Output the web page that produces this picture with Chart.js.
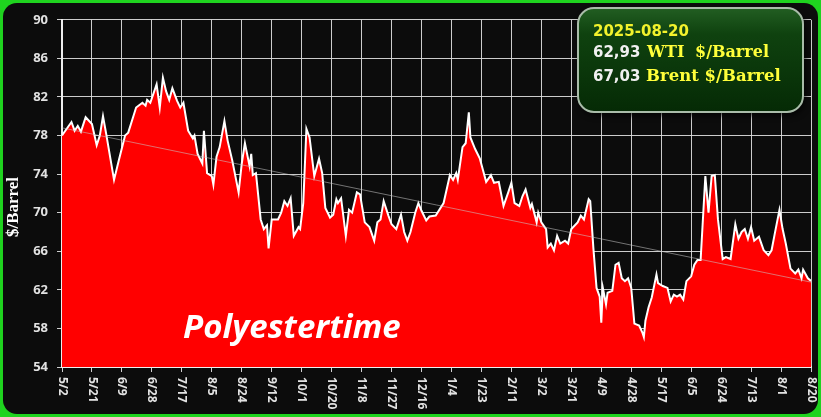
<!DOCTYPE html>
<html>
<head>
<meta charset="utf-8">
<script src="https://cdn.jsdelivr.net/npm/chart.js@4.4.1/dist/chart.umd.min.js"></script>
<style>
html, body { margin: 0; padding: 0; }
body { width: 821px; height: 417px; background: #1fd31f; overflow: hidden; position: relative; }
#wrap { position: absolute; left: 3px; top: 3px; width: 815px; height: 411px; background: #0c0c0c; border-radius: 14px; overflow: hidden; }
</style>
</head>
<body>
<div id="wrap"><canvas id="oilChart" width="815" height="411"></canvas></div>
<script>
// WTI crude, $/barrel, day offsets counted from 2024-05-02
const startDate = [2024, 4, 2];
const days = [
  0, 6, 8, 10, 12, 15, 19, 22, 24, 26,
  28, 33, 36, 40, 42, 47, 51, 53, 54, 56,
  60, 62, 64, 66, 68, 70, 73, 75, 77, 80,
  83, 84, 86, 89, 90, 92, 95, 96, 98, 100,
  103, 105, 108, 112, 114, 116, 119, 120, 121, 123,
  126, 128, 130, 131, 133, 137, 139, 141, 143, 145,
  147, 150, 151, 153, 155, 157, 160, 163, 165, 167,
  170, 172, 174, 175, 177, 180, 182, 184, 187, 189,
  192, 195, 198, 200, 202, 204, 207, 209, 212, 215,
  217, 219, 221, 224, 226, 228, 231, 233, 237, 242,
  246, 248, 250, 251, 254, 256, 258, 259, 262, 265,
  267, 269, 272, 274, 277, 280, 283, 285, 287, 290,
  292, 294, 297, 298, 301, 302, 304, 307, 308, 310,
  312, 314, 316, 319, 321, 323, 327, 329, 331, 334,
  335, 337, 339, 341, 342, 343, 345, 346, 349, 351,
  353, 355, 357, 359, 361, 363, 366, 368, 369, 370,
  372, 374, 377, 378, 381, 384, 386, 388, 390, 392,
  394, 396, 399, 401, 403, 405, 408, 410, 412, 414,
  416, 419, 421, 424, 427, 429, 431, 433, 435, 437,
  439, 442, 445, 448, 450, 452, 455, 457, 459, 462,
  465, 467, 469, 470, 473, 475
];
const wti = [
  78.0, 79.4, 78.5, 79.0, 78.4, 79.9, 79.2, 77.0, 78.0, 80.0,
  78.2, 73.4, 75.4, 78.0, 78.3, 80.9, 81.4, 81.1, 81.7, 81.4,
  83.3, 80.9, 84.0, 82.6, 81.7, 82.9, 81.6, 80.9, 81.4, 78.5,
  77.7, 78.0, 76.1, 75.1, 78.5, 74.1, 73.8, 72.9, 75.8, 76.8,
  79.5, 77.5, 75.4, 72.1, 75.1, 77.2, 74.8, 76.1, 73.9, 74.1,
  69.3, 68.3, 68.7, 66.3, 69.3, 69.3, 70.0, 71.2, 70.7, 71.5,
  67.6, 68.5, 68.3, 71.0, 78.7, 77.8, 73.8, 75.6, 74.1, 70.5,
  69.5, 69.8, 71.4, 71.0, 71.5, 67.6, 70.3, 70.0, 72.1, 71.9,
  69.0, 68.5, 67.1, 69.0, 69.3, 71.2, 69.7, 68.8, 68.3, 69.8,
  68.0, 67.1, 68.0, 70.0, 71.0, 70.2, 69.2, 69.6, 69.7, 71.0,
  73.9, 73.4, 74.1, 73.4, 76.8, 77.2, 80.4, 77.8, 76.6, 75.6,
  74.4, 73.2, 73.9, 73.1, 73.2, 70.7, 72.1, 73.1, 71.0, 70.7,
  71.7, 72.4, 70.5, 70.9, 69.0, 70.0, 69.0, 68.3, 66.4, 66.8,
  66.1, 67.6, 66.8, 67.1, 66.8, 68.3, 69.0, 69.7, 69.3, 71.4,
  71.2, 66.3, 62.2, 61.3, 58.6, 62.2, 60.5, 61.7, 61.9, 64.6,
  64.8, 63.2, 62.9, 63.2, 62.2, 58.5, 58.3, 57.6, 57.1, 58.8,
  60.2, 61.2, 63.6, 62.7, 62.4, 62.2, 60.8, 61.5, 61.3, 61.5,
  61.0, 62.9, 63.4, 64.6, 65.1, 65.1, 73.8, 70.0, 73.8, 73.9,
  69.3, 65.2, 65.4, 65.2, 68.8, 67.3, 68.0, 68.3, 67.3, 68.5,
  67.1, 67.5, 66.1, 65.6, 66.1, 67.8, 70.3, 68.3, 66.8, 64.2,
  63.7, 64.1, 63.2, 64.1, 63.2, 62.93
];
const lastDay = 475;
const tickStep = 19;
const yTicks = [54, 58, 62, 66, 70, 74, 78, 82, 86, 90];
// trend line ends
const trendEnds = [78.8, 62.8];

const infoDate = "2025-08-20";
const wtiPrice = "62,93";
const brentPrice = "67,03";

function dayLabel(d) {
  const dt = new Date(startDate[0], startDate[1], startDate[2] + d);
  return (dt.getMonth() + 1) + "/" + dt.getDate();
}

const priceData = days.map((d, i) => ({ x: d, y: wti[i] }));
const trendData = [{ x: 0, y: trendEnds[0] }, { x: lastDay, y: trendEnds[1] }];

const gridColor = "rgba(225,225,225,0.9)";

const extras = {
  id: "extras",
  afterDraw(chart) {
    const ctx = chart.ctx;
    const xs = chart.scales.x;
    const area = chart.chartArea;
    ctx.save();

    // x labels, rotated clockwise
    ctx.fillStyle = "#e2e2e2";
    ctx.font = "bold 12px 'Open Sans'";
    ctx.textAlign = "left";
    ctx.textBaseline = "middle";
    xs.ticks.forEach(t => {
      const x = xs.getPixelForValue(t.value);
      ctx.save();
      ctx.translate(x, area.bottom + 10);
      ctx.rotate(Math.PI / 2);
      ctx.fillText(dayLabel(t.value), 0, 0);
      ctx.restore();
    });

    // y title
    ctx.save();
    ctx.translate(11, 204);
    ctx.rotate(-Math.PI / 2);
    ctx.textAlign = "center";
    ctx.fillStyle = "#ffffff";
    ctx.font = "bold 17px 'Liberation Serif'";
    ctx.fillText("$/Barrel", 0, 0);
    ctx.restore();

    // watermark
    ctx.fillStyle = "#ffffff";
    ctx.font = "italic bold 33px 'Open Sans'";
    ctx.textBaseline = "alphabetic";
    ctx.fillText("Polyestertime", 180, 335);

    // info box
    ctx.save();
    ctx.shadowColor = "rgba(0,0,0,0.8)";
    ctx.shadowBlur = 6;
    ctx.shadowOffsetX = 2;
    ctx.shadowOffsetY = 3;
    const g = ctx.createLinearGradient(0, 5, 0, 109);
    g.addColorStop(0, "#225e22");
    g.addColorStop(0.25, "#0f420f");
    g.addColorStop(1, "#052a05");
    ctx.fillStyle = g;
    ctx.beginPath();
    ctx.roundRect(575, 5, 225, 104, 16);
    ctx.fill();
    ctx.restore();
    ctx.strokeStyle = "#a9bca9";
    ctx.lineWidth = 2;
    ctx.beginPath();
    ctx.roundRect(575, 5, 225, 104, 16);
    ctx.stroke();

    ctx.textAlign = "left";
    ctx.fillStyle = "#f2f22c";
    ctx.font = "bold 15px 'DejaVu Sans'";
    ctx.fillText(infoDate, 590, 33);

    ctx.fillStyle = "#f0f0f0";
    ctx.fillText(wtiPrice, 590, 54);
    ctx.fillText(brentPrice, 590, 78);
    ctx.fillStyle = "#ffff3a";
    ctx.font = "bold 16px 'DejaVu Serif'";
    ctx.fillText("WTI", 644, 54);
    ctx.fillText("$/Barrel", 692, 54);
    ctx.font = "bold 16.5px 'DejaVu Serif'";
    ctx.fillText("Brent $/Barrel", 643, 78);

    ctx.restore();
  }
};

new Chart(document.getElementById("oilChart"), {
  type: "line",
  data: {
    datasets: [
      {
        label: "trend",
        data: trendData,
        borderColor: "rgba(200,200,200,0.55)",
        borderWidth: 1,
        pointRadius: 0,
        fill: false,
        order: 0
      },
      {
        label: "WTI",
        data: priceData,
        borderColor: "#ffffff",
        borderWidth: 2,
        backgroundColor: "#ff0000",
        pointRadius: 0,
        fill: "start",
        tension: 0,
        order: 1
      }
    ]
  },
  options: {
    responsive: false,
    animation: false,
    devicePixelRatio: 1,
    layout: { padding: { top: 11, right: 7, left: 0, bottom: 0 } },
    plugins: { legend: { display: false }, tooltip: { enabled: false } },
    scales: {
      x: {
        type: "linear",
        min: 0,
        max: lastDay,
        afterFit: s => { s.height = 47; },
        ticks: { display: false, stepSize: tickStep },
        grid: { color: gridColor, tickLength: 5, tickColor: "#cfcfcf" },
        border: { color: "#eeeeee", width: 2 }
      },
      y: {
        min: yTicks[0],
        max: yTicks[yTicks.length - 1],
        afterFit: s => { s.width = 59; },
        ticks: {
          stepSize: 4,
          padding: 9,
          color: "#e2e2e2",
          font: { family: "'Open Sans'", weight: "bold", size: 13 }
        },
        grid: { color: gridColor, tickLength: 5, tickColor: "#cfcfcf" },
        border: { color: "#eeeeee", width: 2 }
      }
    }
  },
  plugins: [extras]
});
</script>
</body>
</html>
